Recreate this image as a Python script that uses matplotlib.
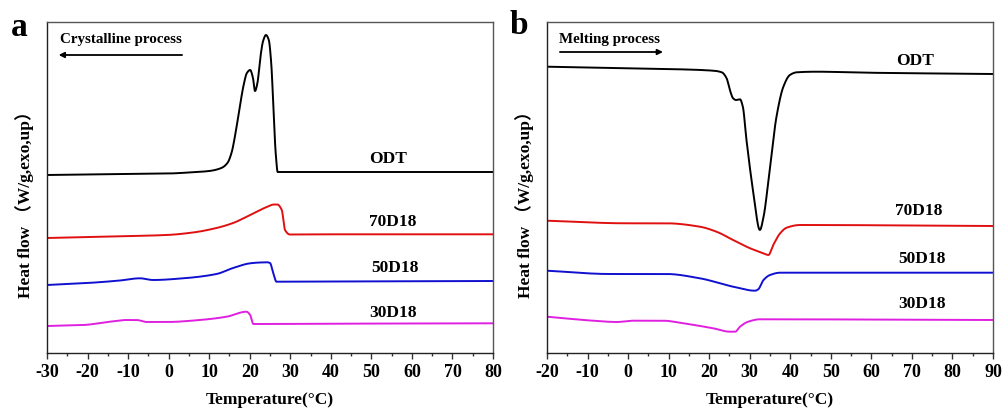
import matplotlib
matplotlib.use("Agg")
import matplotlib.pyplot as plt
import numpy as np

plt.rcParams['font.family'] = ['Liberation Serif', 'Noto Sans CJK SC', 'DejaVu Sans']
plt.rcParams['font.weight'] = 'bold'
plt.rcParams['axes.unicode_minus'] = False

# ---------------- Panel a: crystalline process (cooling) ----------------
a_odt_T = [-30, -10, 0, 5, 10, 13, 14.5, 15.5, 16.5, 17.5, 18.5, 19.3, 20.1, 20.8, 21.3,
           21.9, 22.6, 23.3, 24.0, 24.7, 25.3, 25.9, 26.4, 26.9, 30, 50, 80]
a_odt_h = [178, 179, 179.5, 180.5, 182, 185, 190, 200, 220, 245, 268, 280, 283, 275, 262,
           270, 295, 312, 318, 313, 290, 240, 200, 181, 181, 181, 181]

a_70_T = [-30, -15, -0.5, 6, 11.8, 15.9, 20.1, 24.2, 26.0, 26.8, 27.9, 28.7, 29.9, 40, 80]
a_70_h = [115, 116.5, 118, 120.5, 125, 130, 138, 146, 148.5, 148.5, 143, 123, 118.5, 118.7, 118.7]

a_50_T = [-30, -20, -12, -7.1, -3.8, 3.6, 11.8, 15.9, 20.1, 22.5, 24.3, 25.0, 25.8, 26.6, 40, 80]
a_50_h = [68, 70, 72.5, 74.7, 73, 74.7, 79, 85, 89.7, 90.5, 90.7, 90, 80, 71.3, 71.5, 72]

a_30_T = [-30, -21, -14.5, -10.4, -7.9, -5.4, -0.5, 7.7, 14.3, 19.2, 20.1, 20.9, 22.5, 40, 80]
a_30_h = [27, 28, 31.3, 33, 33, 31, 31, 33, 36.3, 41.3, 38, 29, 29, 29.3, 29.7]

# ---------------- Panel b: melting process (heating) ----------------
b_odt_T = [-20, 9.5, 21.0, 23.1, 24.3, 25.1, 25.9, 26.6, 27.6, 28.3, 29.2, 30.9, 32.5,
           33.4, 35.0, 36.6, 38.3, 39.9, 41.6, 46.5, 58.8, 90]
b_odt_h = [286.3, 284, 282.3, 280.7, 274.7, 263, 254.7, 253, 253.7, 246.3, 213, 160, 123,
           136, 186, 236.3, 266.3, 278, 280.7, 281.3, 280.3, 279]

b_70_T = [-20, -0.35, 9.5, 17.7, 21.8, 25.9, 30.1, 33.4, 34.6, 35.8, 37.5, 39.1, 42.4, 90]
b_70_h = [132.3, 129.7, 129.7, 126.3, 121.3, 113, 104.7, 99.7, 98, 108, 119.7, 125.3, 128, 127]

b_50_T = [-20, -4.5, 9.5, 17.7, 25.9, 31.3, 32.1, 33.4, 35.0, 37.5, 90]
b_50_h = [82.3, 79, 79, 74.7, 66.3, 62.3, 63.7, 73, 78, 80.3, 80.3]

b_30_T = [-20, -8.6, -2.8, 1.3, 8.7, 13.6, 21.0, 25.1, 26.4, 27.6, 29.6, 32.5, 90]
b_30_h = [36.3, 32.3, 31, 32.3, 32.3, 29.7, 24.7, 21.3, 21.3, 26.3, 31.3, 33.7, 33]

series_names = ["ODT", "70D18", "50D18", "30D18"]
series_colors = ["#000000", "#e01010", "#1010d0", "#e020e0"]

a_data = [(a_odt_T, a_odt_h), (a_70_T, a_70_h), (a_50_T, a_50_h), (a_30_T, a_30_h)]
b_data = [(b_odt_T, b_odt_h), (b_70_T, b_70_h), (b_50_T, b_50_h), (b_30_T, b_30_h)]

a_label_pos = [(54.1, 194), (55.2, 131), (55.8, 85), (55.3, 40)]
b_label_pos = [(70.8, 292), (71.8, 142), (72.4, 93.7), (72.6, 49)]


def smooth_curve(T, h):
    T = np.asarray(T, float)
    h = np.asarray(h, float)
    # monotone cubic (PCHIP-like) interpolation between read points
    n = len(T)
    d = np.diff(h) / np.diff(T)
    m = np.zeros(n)
    m[0], m[-1] = d[0], d[-1]
    for i in range(1, n - 1):
        if d[i - 1] * d[i] <= 0:
            m[i] = 0
        else:
            w1 = 2 * (T[i + 1] - T[i]) + (T[i] - T[i - 1])
            w2 = (T[i + 1] - T[i]) + 2 * (T[i] - T[i - 1])
            m[i] = (w1 + w2) / (w1 / d[i - 1] + w2 / d[i])
    xs, ys = [], []
    for i in range(n - 1):
        hseg = T[i + 1] - T[i]
        t = np.linspace(0, 1, 30)
        h00 = 2 * t**3 - 3 * t**2 + 1
        h10 = t**3 - 2 * t**2 + t
        h01 = -2 * t**3 + 3 * t**2
        h11 = t**3 - t**2
        y = h00 * h[i] + h10 * hseg * m[i] + h01 * h[i + 1] + h11 * hseg * m[i + 1]
        xs.append(T[i] + t * hseg)
        ys.append(y)
    return np.concatenate(xs), np.concatenate(ys)


fig = plt.figure(figsize=(10.03, 4.12), dpi=100)
ax_a = fig.add_axes([47 / 1003, 59 / 412, 446 / 1003, 331 / 412])
ax_b = fig.add_axes([547 / 1003, 59 / 412, 446 / 1003, 331 / 412])

spine_color = "#555555"

for ax, data, lpos, xlim in [(ax_a, a_data, a_label_pos, (-30, 80)),
                             (ax_b, b_data, b_label_pos, (-20, 90))]:
    for (T, h), name, col, (lx, ly) in zip(data, series_names, series_colors, lpos):
        x, y = smooth_curve(T, h)
        ax.plot(x, y, color=col, lw=1.4)
        ax.text(lx, ly, name, ha="center", va="center", fontsize=12.5,
                fontweight="bold", color="black")
    ax.set_xlim(*xlim)
    ax.set_ylim(0, 331)
    ax.set_xticks(np.arange(xlim[0], xlim[1] + 1, 10))
    ax.set_xticks(np.arange(xlim[0] + 5, xlim[1], 10), minor=True)
    ax.set_yticks([])
    ax.tick_params(axis="x", which="major", direction="out", length=4, width=1,
                   labelsize=13, pad=4, color="#333333")
    ax.tick_params(axis="x", which="minor", direction="out", length=2.5, width=1,
                   color="#333333")
    for lbl in ax.get_xticklabels():
        lbl.set_fontweight("bold")
    for sp in ax.spines.values():
        sp.set_color(spine_color)
        sp.set_linewidth(1.0)
    ax.spines["bottom"].set_color("#222222")
    ax.spines["left"].set_color("#222222")
    ax.set_xlabel("Temperature(°C)", fontsize=12.5, fontweight="bold", labelpad=8)
    ax.set_ylabel("Heat flow （W/g,exo,up）", fontsize=12.5, fontweight="bold",
                  labelpad=9, y=0.46)

# Process annotations
ax_a.text(-26.8, 314, "Crystalline process", fontsize=10.8, fontweight="bold",
          ha="left", va="center")
ax_a.annotate("", xy=(-27.8, 298), xytext=(4.0, 298),
              arrowprops=dict(arrowstyle="-|>", color="black", lw=1.3,
                              mutation_scale=8))
ax_b.text(-17.0, 314, "Melting process", fontsize=10.8, fontweight="bold",
          ha="left", va="center")
ax_b.annotate("", xy=(9.3, 301), xytext=(-17.5, 301),
              arrowprops=dict(arrowstyle="-|>", color="black", lw=1.3,
                              mutation_scale=8))

# Panel letters
fig.text(11 / 1003, 1 - 27 / 412, "a", fontsize=24, fontweight="bold", va="center", ha="left")
fig.text(510 / 1003, 1 - 25 / 412, "b", fontsize=24, fontweight="bold", va="center", ha="left")

fig.savefig("out.png", dpi=100)
